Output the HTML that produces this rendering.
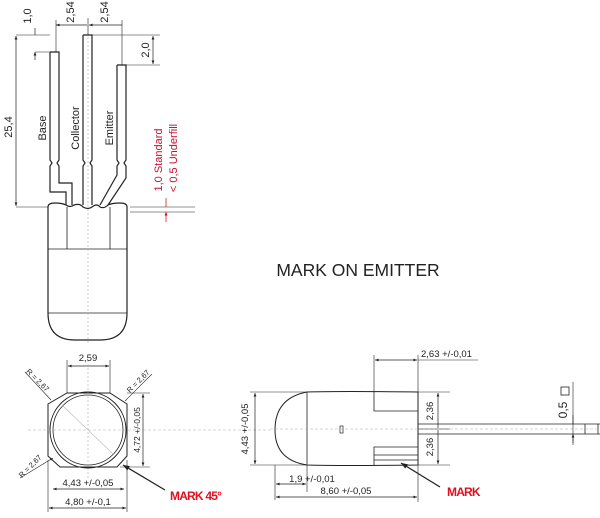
<!DOCTYPE html>
<html><head><style>body{margin:0;background:#fff}svg{display:block}text{font-family:"Liberation Sans",sans-serif}</style></head>
<body>
<svg width="600" height="518" viewBox="0 0 600 518" xmlns="http://www.w3.org/2000/svg">
<defs>
<marker id="a" viewBox="0 0 10 10" refX="10" refY="5" markerWidth="6" markerHeight="5" orient="auto-start-reverse"><path d="M0,1 L10,5 L0,9z" fill="#222"/></marker>
<marker id="r" viewBox="0 0 10 10" refX="10" refY="5" markerWidth="5" markerHeight="5" orient="auto-start-reverse"><path d="M0,1 L10,5 L0,9z" fill="#c00"/></marker>
</defs>
<g stroke="#222" fill="none" stroke-width="1">
<path d="M50,52 H59 V160 l-2,3 2,3 V183 H72 V205 M50,52 V160 l2,3 -2,3 V192 H66 V205" stroke-width="1.2"/>
<path d="M83,35 H92 V160 l-2,3 2,3 V205 M83,35 V160 l2,3 -2,3 V205" stroke-width="1.2"/>
<path d="M117,65 H126 V160 l-2,3 2,3 V178 L108,205 M117,65 V160 l2,3 -2,3 V175 L100,205" stroke-width="1.2"/>
<path d="M48,207 Q48,203 55,203 Q62,203 66,205 Q70,208 74,205 Q80,203 83,207 Q88,210 92,207 Q97,203 100,207 Q104,209 108,205 Q112,203 120,203 Q127,203 127,207 V313 Q127,340 100,340 H75 Q48,340 48,313 Z" stroke-width="1.2"/>
<path d="M67,207 V249 M110,207 V249 M48,249 H127 M48,313 H127" stroke-width="0.8"/>
<path d="M88,25 V345" stroke="#aaa" stroke-dasharray="2 2" stroke-width="0.6"/>
<path d="M16,35 H50 M16,207 H48 M35,52 H50 M56,20 V52 M88,18 V35 M122,20 V65 M83,35 H160 M126,65 H160 M130,207 H195 M130,212 H195" stroke-width="0.6"/>
<path d="M16,36 V206" marker-start="url(#a)" marker-end="url(#a)" stroke-width="0.7"/>
<path d="M35,28 V35 M35,60 V52" marker-end="url(#a)" stroke-width="0.7"/>
<path d="M56,25 H87 M122,25 H89" marker-start="url(#a)" marker-end="url(#a)" stroke-width="0.7"/>
<path d="M153,36 V64" marker-start="url(#a)" marker-end="url(#a)" stroke-width="0.7"/>
<path d="M166,198 V207 M166,222 V212" stroke="#c00" marker-end="url(#r)" stroke-width="0.7"/>
<path d="M67,360 V393 M110,360 V393" stroke-width="0.6"/>
<path d="M68,366 H109" marker-start="url(#a)" marker-end="url(#a)" stroke-width="0.7"/>
<path d="M67,393 H110 L127,404 V456 L117,467 H60 L48,456 V404 Z" stroke-width="1"/>
<circle cx="88" cy="430" r="38" stroke-width="1"/>
<circle cx="88" cy="430" r="35" stroke-width="0.8"/>
<path d="M28,430 H270" stroke="#aaa" stroke-dasharray="3 2" stroke-width="0.6"/>
<path d="M88,360 V480" stroke="#aaa" stroke-dasharray="2 2" stroke-width="0.6"/>
<path d="M62,405 L114,455" stroke="#bbb" stroke-width="0.6"/>
<path d="M25,372 L51,400 M152,374 L125,401 M20,478 L53,458" stroke-width="0.6" marker-end="url(#a)"/>
<path d="M127,393 H150 M120,467 H150 M48,460 V512 M127,460 V512" stroke-width="0.6"/>
<path d="M143,394 V466" marker-start="url(#a)" marker-end="url(#a)" stroke-width="0.7"/>
<path d="M53,489 H124" marker-start="url(#a)" marker-end="url(#a)" stroke-width="0.7"/>
<path d="M49,508 H126" marker-start="url(#a)" marker-end="url(#a)" stroke-width="0.7"/>
<path d="M165,490 L123,465" stroke-width="1.3" marker-end="url(#a)"/>
<path d="M307,392 Q340,391 418,392 V465 Q340,466 307,465 Q275,460 275,430 Q275,398 307,392 Z" stroke-width="1"/>
<path d="M307,392 V465 M374,392 V411 H418 M374,465 V447 H418 M374,455 H418 M374,460 H418" stroke-width="0.8"/>
<rect x="340" y="426" width="3" height="7" stroke-width="0.7"/>
<path d="M418,424 H600 M418,434 H600 M585,424 V434 M598,424 V434" stroke-width="0.8"/>
<path d="M270,429 H600" stroke="#aaa" stroke-dasharray="3 2" stroke-width="0.5"/>
<path d="M250,392 H307 M250,465 H307 M418,392 H450 M418,465 H450 M374,355 V392 M418,355 V392 M418,465 V502 M275,465 V500 M307,465 V492 M418,429 H450 M573,382 V445" stroke-width="0.6"/>
<path d="M255,393 V464" marker-start="url(#a)" marker-end="url(#a)" stroke-width="0.7"/>
<path d="M375,360 H417" marker-start="url(#a)" marker-end="url(#a)" stroke-width="0.7"/>
<path d="M418,360 H478" stroke-width="0.6"/>
<path d="M438,393 V428 M438,430 V464" marker-start="url(#a)" marker-end="url(#a)" stroke-width="0.7"/>
<path d="M276,484 H306" marker-start="url(#a)" marker-end="url(#a)" stroke-width="0.7"/>
<path d="M276,497 H417" marker-start="url(#a)" marker-end="url(#a)" stroke-width="0.7"/>
<path d="M573,415 V424 M573,443 V434" marker-end="url(#a)" stroke-width="0.7"/>
<path d="M440,487 L401,463" stroke-width="1.3" marker-end="url(#a)"/>
</g>
<g font-size="11" fill="#222">
<text transform="translate(12,127) rotate(-90)" text-anchor="middle">25,4</text>
<text transform="translate(31,16) rotate(-90)" text-anchor="middle">1,0</text>
<text transform="translate(74,12) rotate(-90)" text-anchor="middle">2,54</text>
<text transform="translate(108,12) rotate(-90)" text-anchor="middle">2,54</text>
<text transform="translate(149,50) rotate(-90)" text-anchor="middle">2,0</text>
<text transform="translate(46,128) rotate(-90)" text-anchor="middle">Base</text>
<text transform="translate(79,128) rotate(-90)" text-anchor="middle">Collector</text>
<text transform="translate(113,128) rotate(-90)" text-anchor="middle">Emitter</text>
<text transform="translate(162,160) rotate(-90)" text-anchor="middle" fill="#c8102e">1,0  Standard</text>
<text transform="translate(177,158) rotate(-90)" text-anchor="middle" fill="#c8102e">&lt; 0,5  Underfill</text>
<text x="358" y="276" font-size="17.5" text-anchor="middle">MARK ON EMITTER</text>
<text x="88" y="361" text-anchor="middle" font-size="9.5">2,59</text>
<text transform="translate(36,382) rotate(45)" text-anchor="middle" font-size="7.5">R = 2,67</text>
<text transform="translate(140,383) rotate(-45)" text-anchor="middle" font-size="7.5">R = 2,67</text>
<text transform="translate(32,468) rotate(-45)" text-anchor="middle" font-size="7.5">R = 2,67</text>
<text transform="translate(140,430) rotate(-90)" text-anchor="middle" font-size="8.5">4,72 +/-0,05</text>
<text x="88" y="486" text-anchor="middle" font-size="9.5">4,43 +/-0,05</text>
<text x="88" y="505" text-anchor="middle" font-size="9.5">4,80 +/-0,1</text>
<text x="170" y="500" font-size="12" font-weight="bold" fill="#e0101e" letter-spacing="-0.8">MARK 45°</text>
<text transform="translate(248,429) rotate(-90)" text-anchor="middle" font-size="9.5">4,43 +/-0,05</text>
<text x="421" y="357" font-size="9.5">2,63 +/-0,01</text>
<text transform="translate(433,411) rotate(-90)" text-anchor="middle" font-size="9.5">2,36</text>
<text transform="translate(433,447) rotate(-90)" text-anchor="middle" font-size="9.5">2,36</text>
<text x="312" y="482" text-anchor="middle" font-size="9.5">1,9 +/-0,01</text>
<text x="346" y="494" text-anchor="middle" font-size="9.5">8,60 +/-0,05</text>
<text x="447" y="496" font-size="12" font-weight="bold" fill="#e0101e" letter-spacing="-0.8">MARK</text>
<text transform="translate(567,410) rotate(-90)" text-anchor="middle" font-size="12">0,5</text>
</g>
<rect x="561" y="387" width="8" height="8" fill="none" stroke="#222" stroke-width="0.8"/>
</svg>
</body></html>
